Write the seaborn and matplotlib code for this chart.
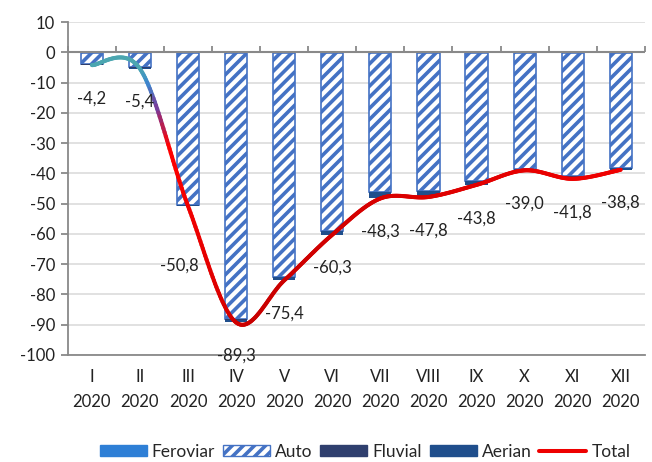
import numpy as np
import pandas as pd
import matplotlib
matplotlib.use("Agg")
import matplotlib.pyplot as plt
import seaborn as sns
from matplotlib.collections import LineCollection
from matplotlib.bezier import BezierSegment
from matplotlib.patches import Patch
from matplotlib.lines import Line2D
from matplotlib.colors import LinearSegmentedColormap

# data (% change vs same month of 2019)
months = ["I", "II", "III", "IV", "V", "VI", "VII", "VIII", "IX", "X", "XI", "XII"]
year = "2020"
total = [-4.2, -5.4, -50.8, -89.3, -75.4, -60.3, -48.3, -47.8, -43.8, -39.0, -41.8, -38.8]
feroviar = [-0.1, -0.1, -0.1, -0.1, -0.1, -0.1, -0.1, -0.1, -0.1, -0.1, -0.1, -0.1]
auto = [-3.8, -4.8, -50.2, -88.2, -74.1, -58.8, -46.1, -45.6, -42.4, -38.3, -40.9, -38.0]
fluvial = [-0.1, -0.1, -0.1, -0.1, -0.1, -0.1, -0.1, -0.1, -0.1, -0.1, -0.1, -0.1]
aerian = [-0.2, -0.4, -0.4, -0.9, -1.1, -1.3, -2.0, -2.0, -1.2, -0.5, -0.7, -0.6]

df = pd.DataFrame({"month": [m + "\n" + year for m in months], "Feroviar": feroviar,
                   "Auto": auto, "Fluvial": fluvial, "Aerian": aerian, "Total": total})

c_fer = "#2E7FD6"
c_auto = "#4472C4"
c_fluv = "#2F3F6E"
c_aer = "#1F4E8C"

sns.set_theme(style="white")
plt.rcParams["font.family"] = ["Lato", "DejaVu Sans"]
plt.rcParams["axes.unicode_minus"] = False
plt.rcParams["hatch.linewidth"] = 2.6

fig = plt.figure(figsize=(6.52, 4.62), dpi=100)
ax = fig.add_axes([0.104, 0.232, 0.885, 0.72])

x = np.arange(len(months))
w = 0.46
ymin, ymax = -100, 10

# stacked bars (all negative, stacked downward from 0)
sns.barplot(data=df, x="month", y="Feroviar", color=c_fer, width=w, ax=ax,
            saturation=1, linewidth=0)
b1 = df["Feroviar"].values
ax.bar(x, df["Auto"], width=w, bottom=b1, facecolor="white", edgecolor=c_auto,
       hatch="///", linewidth=1.2)
b2 = b1 + df["Auto"].values
ax.bar(x, df["Fluvial"], width=w, bottom=b2, color=c_fluv, linewidth=0)
b3 = b2 + df["Fluvial"].values
ax.bar(x, df["Aerian"], width=w, bottom=b3, color=c_aer, linewidth=0)

# smoothed total line (Catmull-Rom -> cubic bezier, like Excel's smoothing)
pts = np.column_stack([x, df["Total"].values])
curve = []
for i in range(len(pts) - 1):
    p0 = pts[i - 1] if i > 0 else pts[i]
    p1, p2 = pts[i], pts[i + 1]
    p3 = pts[i + 2] if i + 2 < len(pts) else pts[i + 1]
    seg = BezierSegment(np.array([p1, p1 + (p2 - p0) / 6, p2 - (p3 - p1) / 6, p2]))
    curve.append(seg.point_at_t(np.linspace(0, 1, 40)))
curve = np.vstack(curve)
segs = np.stack([curve[:-1], curve[1:]], axis=1)
cmap = LinearSegmentedColormap.from_list("tot", [
    (0.0, "#4BA6B0"), (1.0 / 11, "#4BA6B0"), (1.15 / 11, "#3A8AD0"),
    (1.35 / 11, "#7A3A98"), (1.6 / 11, "#FF0000"), (3.3 / 11, "#C80000"),
    (6.0 / 11, "#D80000"), (1.0, "#F00000")])
lc = LineCollection(segs, cmap=cmap, linewidths=2.9, capstyle="round", zorder=5)
lc.set_array((segs[:, 0, 0] + segs[:, 1, 0]) / 2 / (len(months) - 1))
lc.set_clim(0, 1)
ax.add_collection(lc)

# data labels under the line
offsets = [(0, -24)] * len(months)
offsets[2] = (-6, -43)
for xi, v, off in zip(x, total, offsets):
    ax.annotate(f"{v:.1f}".replace(".", ","), (xi, v), xytext=off, textcoords="offset points",
                ha="center", va="center", fontsize=12, color="#222222", zorder=6)

# axes styling
ax.set_xlim(-0.5, len(months) - 0.5)
ax.set_ylim(ymin, ymax)
ax.set_yticks(np.arange(ymin, ymax + 1, 10))
ax.set_yticklabels([str(t) for t in range(ymin, ymax + 1, 10)])
ax.set_xticks(x)
ax.set_xticklabels(df["month"], linespacing=1.75)
ax.set_xlabel("")
ax.set_ylabel("")
ax.tick_params(axis="y", labelsize=12, colors="#898989", labelcolor="#222222",
               length=5, width=1.3, direction="out", left=True, pad=4)
ax.tick_params(axis="x", labelsize=12, labelcolor="#222222", length=0, pad=10)
ax.yaxis.grid(True, color="#D9D9D9", linewidth=1.1)
ax.set_axisbelow(True)
for s in ["top", "right"]:
    ax.spines[s].set_visible(False)
for s in ["left", "bottom"]:
    ax.spines[s].set_color("#898989")
    ax.spines[s].set_linewidth(1.3)
ax.axhline(0, color="#898989", linewidth=1.5, zorder=4)

# category boundary ticks on the zero line
sec = ax.secondary_xaxis((0 - ymin) / (ymax - ymin))
sec.set_xticks(np.arange(-0.5, len(months), 1.0))
sec.set_xticklabels([])
sec.tick_params(axis="x", direction="out", length=4, width=1.3, colors="#898989")
sec.spines["bottom"].set_visible(False)
sec.spines["top"].set_visible(False)

handles = [Patch(facecolor=c_fer, edgecolor=c_fer),
           Patch(facecolor="white", edgecolor=c_auto, hatch="///"),
           Patch(facecolor=c_fluv, edgecolor=c_fluv),
           Patch(facecolor=c_aer, edgecolor=c_aer),
           Line2D([], [], color="#EE0000", linewidth=2.9)]
fig.legend(handles, ["Feroviar", "Auto", "Fluvial", "Aerian", "Total"], loc="center",
           bbox_to_anchor=(0.56, 0.022), ncol=5, frameon=False, fontsize=12.5,
           handlelength=2.7, handleheight=0.6, handletextpad=0.3, columnspacing=0.45)

fig.savefig("out.png", dpi=100)
